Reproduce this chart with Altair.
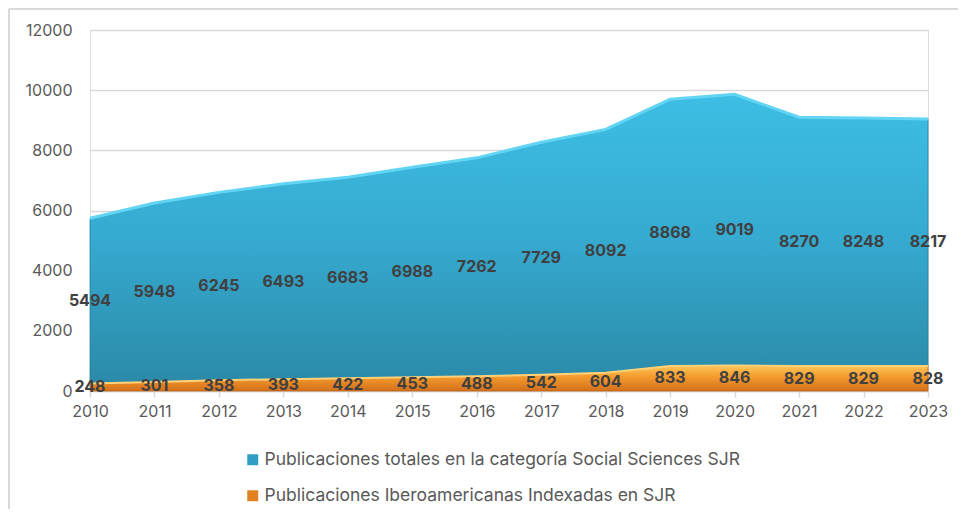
import altair as alt
import pandas as pd

years = [2010, 2011, 2012, 2013, 2014, 2015, 2016, 2017, 2018, 2019, 2020, 2021, 2022, 2023]
totales = [5494, 5948, 6245, 6493, 6683, 6988, 7262, 7729, 8092, 8868, 9019, 8270, 8248, 8217]
ibero = [248, 301, 358, 393, 422, 453, 488, 542, 604, 833, 846, 829, 829, 828]
series_names = [
    "Publicaciones totales en la categoría Social Sciences SJR",
    "Publicaciones Iberoamericanas Indexadas en SJR",
]
y_ticks = [0, 2000, 4000, 6000, 8000, 10000, 12000]

df = pd.DataFrame({"year": years, "total": totales, "ibero": ibero})

FONT = "Inter"
GRAY = "#595959"

x_scale = alt.Scale(domain=[2010, 2023], nice=False, zero=False)
y_scale = alt.Scale(domain=[0, 12000], nice=False)

x_axis = alt.Axis(values=years, format="d", labelFontSize=16, labelColor=GRAY, labelFont=FONT,
                  tickColor="#d9d9d9", tickSize=6, tickWidth=1.5, domainColor="#d9d9d9", domainWidth=1.5,
                  labelPadding=6, labelFlush=False, labelOverlap=False, grid=False, title=None)
y_axis = alt.Axis(values=y_ticks, format="d", labelFontSize=16, labelColor=GRAY, labelFont=FONT,
                  domain=False, ticks=False, grid=True, gridColor="#d9d9d9", gridWidth=1.5,
                  labelPadding=18, labelFlush=False, labelOverlap=False, title=None)

base = alt.Chart(df).transform_calculate(
    top="datum.ibero + datum.total",
    mid_blue="datum.ibero + datum.total / 2",
    mid_or="datum.ibero / 2",
)

blue_grad = alt.LinearGradient(
    gradient="linear", x1=0, y1=0, x2=0, y2=1,
    stops=[alt.GradientStop(color="#3dbee4", offset=0),
           alt.GradientStop(color="#36aad0", offset=0.5),
           alt.GradientStop(color="#2b8aa8", offset=1)],
)
orange_grad = alt.LinearGradient(
    gradient="linear", x1=0, y1=0, x2=0, y2=1,
    stops=[alt.GradientStop(color="#ffc75a", offset=0),
           alt.GradientStop(color="#f39a2c", offset=0.45),
           alt.GradientStop(color="#d4701c", offset=1)],
)

blue_area = base.mark_area(fill=blue_grad, stroke="#2a7f9c", strokeWidth=0.8).encode(
    x=alt.X("year:Q", scale=x_scale, axis=x_axis),
    y=alt.Y("top:Q", scale=y_scale, axis=y_axis),
    y2="ibero:Q",
)
blue_edge = base.mark_line(color="#63d5f4", strokeWidth=3).encode(
    x=alt.X("year:Q", scale=x_scale),
    y=alt.Y("top:Q", scale=y_scale),
)
orange_area = base.mark_area(fill=orange_grad, stroke="#b85f16", strokeWidth=0.8).encode(
    x=alt.X("year:Q", scale=x_scale),
    y=alt.Y("ibero:Q", scale=y_scale),
    y2=alt.datum(0),
)
orange_edge = base.mark_line(color="#ffd27a", strokeWidth=2).encode(
    x=alt.X("year:Q", scale=x_scale),
    y=alt.Y("ibero:Q", scale=y_scale),
)

blue_text = base.mark_text(fontSize=16, fontWeight="bold", color="#404040", font=FONT).encode(
    x=alt.X("year:Q", scale=x_scale),
    y=alt.Y("mid_blue:Q", scale=y_scale),
    text=alt.Text("total:Q", format="d"),
)
orange_text = base.mark_text(fontSize=16, fontWeight="bold", color="#404040", font=FONT).encode(
    x=alt.X("year:Q", scale=x_scale),
    y=alt.Y("mid_or:Q", scale=y_scale),
    text=alt.Text("ibero:Q", format="d"),
)

legend_layer = base.transform_fold(["total", "ibero"], as_=["key", "value"]).transform_calculate(
    serie=f"datum.key == 'total' ? '{series_names[0]}' : '{series_names[1]}'"
).mark_square(opacity=0).encode(
    x=alt.X("year:Q", scale=x_scale),
    y=alt.Y("value:Q", scale=y_scale),
    color=alt.Color("serie:N",
                    scale=alt.Scale(domain=series_names, range=["#2f9fc6", "#e3801f"]),
                    legend=alt.Legend(orient="none", legendX=154, legendY=421, title=None,
                                      symbolType="square", symbolSize=120, symbolOpacity=1,
                                      symbolStrokeWidth=0,
                                      labelFontSize=17.5, labelColor=GRAY, labelFont=FONT,
                                      rowPadding=17, labelOffset=3, labelLimit=800)),
)

one = alt.Data(values=[{"k": 1}])
border_top = alt.Chart(one).mark_rule(color="#d9d9d9", strokeWidth=2).encode(
    x=alt.value(-81), x2=alt.value(1100), y=alt.value(-21)
)
border_left = alt.Chart(one).mark_rule(color="#d9d9d9", strokeWidth=2).encode(
    x=alt.value(-81), y=alt.value(-21), y2=alt.value(700)
)

chart = alt.layer(
    border_top, border_left, blue_area, blue_edge, orange_area, orange_edge,
    blue_text, orange_text, legend_layer
).properties(
    width=838, height=361,
    padding={"left": 82, "top": 22, "right": 30, "bottom": 118},
    autosize=alt.AutoSizeParams(type="none"),
).configure_view(stroke=None).configure(background="white")

chart.save("out.html", embed_options={"renderer": "svg", "actions": False})
